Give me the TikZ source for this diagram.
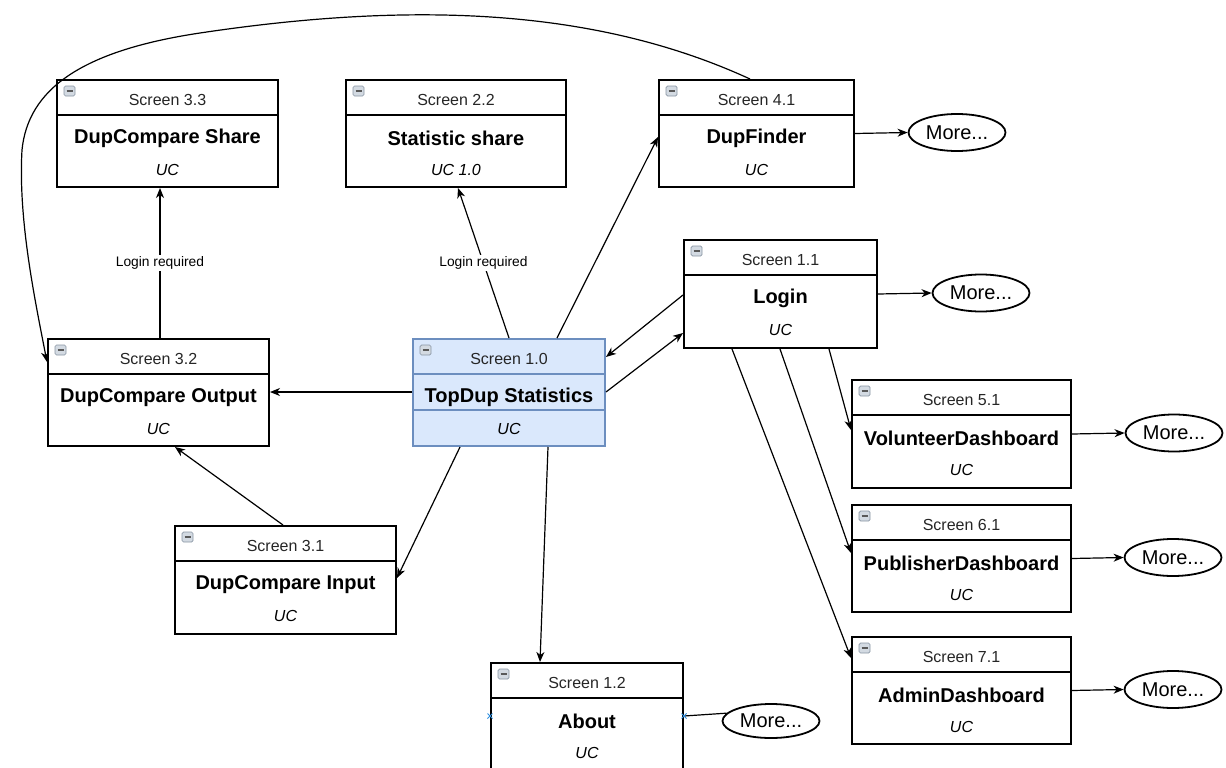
\documentclass[tikz,border=0pt]{standalone}
\usepackage{fontspec}
\setmainfont{Liberation Sans}
\usetikzlibrary{arrows.meta,calc,shapes.geometric}
\definecolor{boxblue}{HTML}{6C8EBF}
\definecolor{boxfill}{HTML}{DAE8FC}
\definecolor{iconfill}{HTML}{D3DAE2}
\definecolor{icondraw}{HTML}{8895A3}
\definecolor{markblue}{HTML}{2F8FE0}
\tikzset{
 scrbox/.style={draw=black, line width=2pt, fill=white, rectangle, inner sep=0pt, anchor=north west},
 hdrline/.style={draw=black, line width=2pt},
 hdrtext/.style={font=\fontsize{16}{19}\selectfont, text=black!85, inner sep=0pt},
 titletext/.style={font=\fontsize{20}{24}\selectfont\bfseries, inner sep=0pt},
 subtext/.style={font=\fontsize{16}{19}\selectfont\itshape, inner sep=0pt},
 iconbox/.style={draw=icondraw, fill=iconfill, line width=0.7pt, rounded corners=1.5pt},
 more/.style={draw=black, line width=1.8pt, ellipse, minimum width=97pt, minimum height=37pt, inner sep=0pt, font=\fontsize{20}{24}\selectfont, fill=white},
 conn/.style={draw=black, line width=1.2pt, -{Stealth[length=10pt,width=8pt,inset=3pt]}},
 plainconn/.style={draw=black, line width=1.2pt},
 lbl/.style={fill=white, inner sep=1.5pt, font=\fontsize{13.8}{16}\selectfont},
 bluex/.style={draw=markblue, line width=0.9pt},
 bluebox/.style={draw=boxblue, fill=boxfill},
}
\newcommand{\uibox}[9][]{%
 \node[scrbox,#1,minimum width=#5pt,minimum height=#6pt] (#2) at (#3,#4) {};
 \draw[hdrline,#1] ($(#2.north west)+(0,36)$) -- ($(#2.north east)+(0,36)$);
 \draw[iconbox] ($(#2.north west)+(8,7)$) rectangle ++(11,10);
 \draw[line width=1.4pt, black!65] ($(#2.north west)+(10.5,12)$) -- ++(6,0);
 \node[hdrtext] (#2-h) at ($(#2.north)+(0,21)$) {#7};
 \node[titletext] (#2-t) at ($(#2.north)+(0,59.5)$) {#8};
 \node[subtext] (#2-s) at ($(#2.north)+(0,91)$) {#9};
}
\begin{document}
\begin{tikzpicture}[x=1pt,y=-1pt]
\useasboundingbox (0,0) rectangle (1226,768);
\clip (0,0) rectangle (1226,768);
\fill[white] (0,0) rectangle (1226,768);

% boxes
\uibox{n33}{56}{79}{221}{107}{Screen 3.3}{DupCompare Share}{UC}
\uibox{n22}{345}{79}{220}{107}{Screen 2.2}{Statistic share}{UC 1.0}
\uibox{n41}{658}{79}{195}{107}{Screen 4.1}{DupFinder}{UC}
\uibox{n11}{683}{239}{193}{108}{Screen 1.1}{Login}{UC}
\uibox{n32}{47}{338}{221}{107}{Screen 3.2}{DupCompare Output}{UC}
\uibox[bluebox]{n10}{412}{338}{192}{107}{Screen 1.0}{TopDup Statistics}{UC}
\draw[hdrline,draw=boxblue] ($(n10.north west)+(0,72)$) -- ($(n10.north east)+(0,72)$);
\uibox{n31}{174}{525}{221}{108}{Screen 3.1}{DupCompare Input}{UC}
\uibox{n12}{490}{662}{192}{112}{Screen 1.2}{About}{UC}
\uibox{n51}{851}{379}{219}{108}{Screen 5.1}{VolunteerDashboard}{UC}
\uibox{n61}{851}{504}{219}{107}{Screen 6.1}{PublisherDashboard}{UC}
\uibox{n71}{851}{636}{219}{107}{Screen 7.1}{AdminDashboard}{UC}

% ellipses
\node[more] (m41) at (957,132.5) {More...};
\node[more] (m11) at (981,293) {More...};
\node[more] (m51) at (1174,433) {More...};
\node[more] (m61) at (1173,557.5) {More...};
\node[more] (m71) at (1173,689.5) {More...};
\node[more, minimum height=34pt] (m12) at (771,721) {More...};

% connectors
\draw[conn] ($(n10.north west)+(97,0)$) -- node[lbl] (l1) {Login required} ($(n22.south west)+(113,0)$);
\draw[conn] ($(n10.north west)+(145,0)$) -- ($(n41.north west)+(0,58)$);
\draw[conn] ($(n11.north west)+(0,56)$) -- ($(n10.north east)+(0,19)$);
\draw[conn] ($(n10.north east)+(0,54)$) -- ($(n11.north west)+(0,94)$);
\draw[conn] ($(n10.north west)+(0,54)$) -- ($(n32.north east)+(0,54)$);
\draw[conn] ($(n32.north west)+(113,0)$) -- node[lbl] (l2) {Login required} ($(n33.south west)+(104,0)$);
\draw[conn] ($(n31.north west)+(109,0)$) -- ($(n32.south west)+(128,0)$);
\draw[conn] ($(n10.south west)+(48,0)$) -- ($(n31.north east)+(0,53)$);
\draw[conn] ($(n10.south west)+(136,0)$) -- ($(n12.north west)+(50,0)$);
\draw[conn] ($(n41.north west)+(92,0)$) .. controls (600,10) and (420,0) .. (200,33)
   .. controls (80,51) and (28,90) .. (22,150)
   .. controls (18,220) and (35,300) .. ($(n32.north west)+(0,24)$);
\draw[conn] (n41.east) -- (m41.west);
\draw[conn] (n11.east) -- (m11.west);
\draw[conn] (n51.east) -- (m51.west);
\draw[conn] (n61.east) -- (m61.west);
\draw[conn] (n71.east) -- (m71.west);
\draw[plainconn] ($(n12.north east)+(0,54)$) -- (m12.170);
\draw[conn] ($(n11.south west)+(49,0)$) -- ($(n71.north west)+(0,22)$);
\draw[conn] ($(n11.south west)+(97,0)$) -- ($(n61.north west)+(0,49)$);
\draw[conn] ($(n11.south west)+(146,0)$) -- ($(n51.north west)+(0,51)$);

% connection markers on About
\draw[bluex] ($(n12.north west)+(0,54)$) +(-2.5,-2.5) -- +(2.5,2.5) +(-2.5,2.5) -- +(2.5,-2.5);
\draw[bluex] ($(n12.north east)+(0,54)$) +(-2.5,-2.5) -- +(2.5,2.5) +(-2.5,2.5) -- +(2.5,-2.5);
\end{tikzpicture}
\end{document}
